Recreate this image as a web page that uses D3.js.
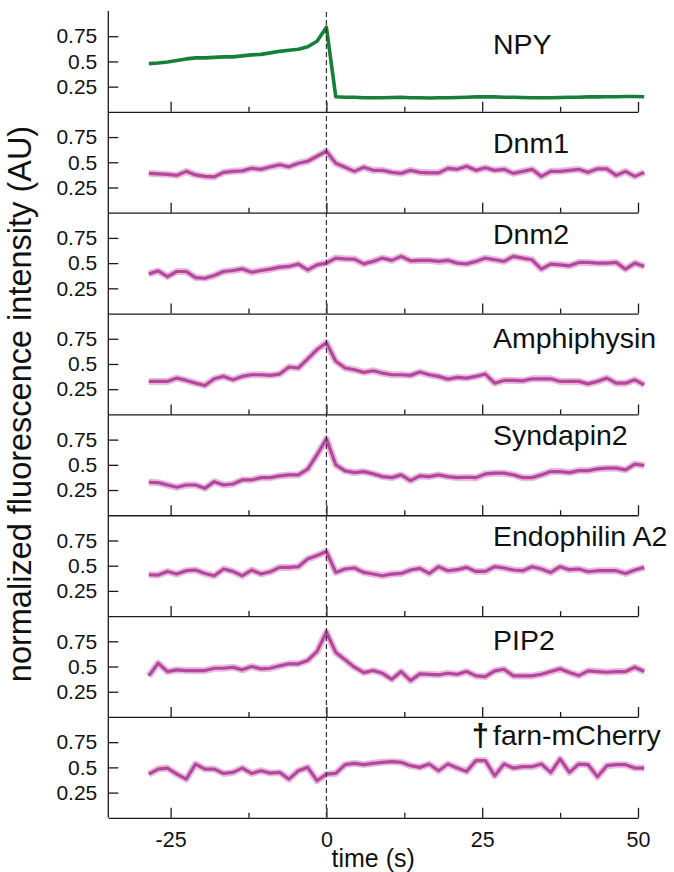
<!DOCTYPE html>
<html><head><meta charset="utf-8">
<script src="https://cdn.jsdelivr.net/npm/d3@7"></script>
<style>
body{margin:0;background:#fff}
svg{display:block}
text{font-family:"Liberation Sans",Arial,Helvetica,sans-serif;fill:#111}
</style>
</head><body><svg id="chart" width="674" height="872"></svg>
<script>
// ---- data ----
const time = [-28.5,-27,-25.5,-24,-22.5,-21,-19.5,-18,-16.5,-15,-13.5,-12,-10.5,-9,-7.5,-6,-4.5,-3,-1.5,0,
  1.5,3,4.5,6,7.5,9,10.5,12,13.5,15,16.5,18,19.5,21,22.5,24,25.5,27,28.5,30,31.5,33,34.5,36,37.5,39,40.5,42,43.5,45,46.5,48,49.5,51];
const panelNames = ["NPY","Dnm1","Dnm2","Amphiphysin","Syndapin2","Endophilin A2","PIP2","farn-mCherry"];
const npy = [0.478,0.485,0.495,0.51,0.525,0.535,0.535,0.54,0.545,0.545,0.555,0.565,0.57,0.585,0.60,0.61,0.62,0.645,0.70,0.84,
  0.15,0.145,0.145,0.14,0.14,0.14,0.142,0.145,0.14,0.14,0.138,0.14,0.14,0.142,0.145,0.148,0.15,0.148,0.145,0.145,
  0.142,0.14,0.14,0.14,0.142,0.145,0.145,0.148,0.148,0.15,0.15,0.152,0.152,0.15];
const dnm1 = [0.39,0.385,0.38,0.37,0.41,0.375,0.36,0.355,0.40,0.41,0.415,0.44,0.43,0.455,0.475,0.455,0.49,0.51,0.56,0.61,
  0.49,0.45,0.41,0.45,0.42,0.42,0.40,0.39,0.42,0.40,0.395,0.395,0.44,0.43,0.46,0.42,0.445,0.42,0.43,0.39,
  0.41,0.43,0.36,0.41,0.41,0.42,0.43,0.40,0.435,0.435,0.37,0.41,0.36,0.40];
const dnm2 = [0.393,0.423,0.367,0.417,0.417,0.357,0.35,0.377,0.417,0.427,0.443,0.41,0.427,0.44,0.46,0.467,0.49,0.433,0.483,0.50,
  0.55,0.543,0.54,0.493,0.517,0.55,0.527,0.567,0.523,0.527,0.527,0.517,0.527,0.50,0.493,0.517,0.55,0.533,0.517,0.567,
  0.55,0.533,0.44,0.49,0.483,0.473,0.507,0.507,0.50,0.50,0.507,0.44,0.50,0.467];
const amphiphysin = [0.327,0.327,0.327,0.36,0.337,0.31,0.287,0.353,0.377,0.343,0.377,0.393,0.393,0.387,0.40,0.47,0.46,0.55,0.643,0.71,
  0.527,0.46,0.443,0.417,0.433,0.41,0.393,0.393,0.387,0.42,0.393,0.377,0.35,0.367,0.36,0.377,0.40,0.31,0.337,0.337,
  0.333,0.353,0.353,0.353,0.327,0.327,0.327,0.303,0.327,0.36,0.31,0.31,0.343,0.293];
const syndapin2 = [0.327,0.323,0.30,0.277,0.30,0.30,0.267,0.333,0.30,0.31,0.35,0.35,0.373,0.373,0.39,0.40,0.40,0.457,0.60,0.757,
  0.50,0.44,0.423,0.433,0.41,0.383,0.373,0.40,0.343,0.39,0.383,0.40,0.383,0.373,0.377,0.373,0.41,0.417,0.417,0.40,
  0.373,0.373,0.40,0.433,0.433,0.423,0.443,0.443,0.46,0.467,0.467,0.45,0.507,0.493];
const endophilinA2 = [0.41,0.407,0.443,0.417,0.45,0.457,0.423,0.40,0.467,0.443,0.40,0.457,0.417,0.44,0.483,0.483,0.49,0.567,0.60,0.64,
  0.433,0.467,0.477,0.433,0.417,0.40,0.417,0.423,0.457,0.473,0.423,0.49,0.45,0.46,0.483,0.443,0.443,0.49,0.477,0.457,
  0.45,0.49,0.467,0.433,0.49,0.46,0.467,0.44,0.45,0.45,0.45,0.423,0.457,0.483];
const pip2 = [0.407,0.533,0.45,0.467,0.46,0.46,0.46,0.483,0.483,0.493,0.467,0.50,0.477,0.483,0.507,0.527,0.527,0.56,0.65,0.84,
  0.64,0.567,0.493,0.44,0.46,0.433,0.373,0.45,0.36,0.427,0.423,0.417,0.433,0.423,0.45,0.407,0.40,0.457,0.473,0.407,
  0.407,0.407,0.423,0.45,0.477,0.44,0.41,0.457,0.45,0.443,0.45,0.45,0.493,0.45];
const farnMCherry = [0.433,0.483,0.493,0.433,0.383,0.533,0.483,0.483,0.44,0.45,0.493,0.44,0.467,0.443,0.45,0.383,0.467,0.50,0.367,0.433,
  0.44,0.527,0.54,0.527,0.54,0.55,0.557,0.55,0.517,0.50,0.533,0.467,0.533,0.493,0.46,0.567,0.567,0.417,0.533,0.493,
  0.507,0.507,0.533,0.45,0.583,0.45,0.533,0.527,0.407,0.517,0.527,0.527,0.493,0.493];
const seriesValues = [npy, dnm1, dnm2, amphiphysin, syndapin2, endophilinA2, pip2, farnMCherry];
const xTickValues = [-25,-12.5,0,12.5,25,37.5,50];
const xTickLabels = [-25,0,25,50];
const yTickValues = [0.25,0.5,0.75];
const xTitle = "time (s)";
const yTitle = "normalized fluorescence intensity (AU)";

// ---- layout / style ----
const plotLeft = 108.3, plotRight = 638, plotTop = 11, panelH = 100.85;
const labelX = 493;
const labelLevel = [0.571,0.588,0.69,0.66,0.70,0.70,0.66,0.723]; // label baseline in panel units
const green = "#178038", magenta = "#b3479c", bandColor = "#e6b3da";
const axisColor = "#1a1a1a";

const svg = d3.select("#chart");
const x = d3.scaleLinear().domain([-35,50]).range([plotLeft,plotRight]);
const bottomAll = plotTop + panelH * panelNames.length;

panelNames.forEach((name, i) => {
  const y = d3.scaleLinear().domain([0,1]).range([plotTop + (i+1)*panelH, plotTop + i*panelH]);
  const g = svg.append("g");
  const vals = seriesValues[i];
  const line = d3.line().x((d,j) => x(time[j])).y(d => y(d));

  const ya = g.append("g").attr("transform", `translate(${plotLeft},0)`)
    .call(d3.axisLeft(y).tickValues(yTickValues).tickSize(-10).tickPadding(11).tickFormat(d => String(d)));
  ya.select(".domain").remove();
  ya.selectAll(".tick line").attr("stroke", axisColor).attr("stroke-width", 1.3);
  ya.selectAll(".tick text").attr("font-size", 21).attr("font-family", "Liberation Sans, Arial, sans-serif").attr("fill", "#111");

  const isLast = i === panelNames.length - 1;
  const xa = g.append("g").attr("transform", `translate(0,${y(0)})`)
    .call(d3.axisBottom(x).tickValues(xTickValues).tickSize(-10).tickSizeOuter(0).tickPadding(14)
      .tickFormat(d => (isLast && xTickLabels.includes(d)) ? String(d) : ""));
  xa.select(".domain").attr("stroke", axisColor).attr("stroke-width", 1.3);
  xa.selectAll(".tick line").attr("stroke", axisColor).attr("stroke-width", 1.3)
    .attr("y2", d => xTickLabels.includes(d) ? -10 : -5);
  xa.selectAll(".tick text").attr("font-size", 21.5).attr("font-family", "Liberation Sans, Arial, sans-serif").attr("fill", "#111");

  if (i === 0) {
    g.append("path").datum(vals).attr("d", line).attr("fill", "none")
      .attr("stroke", green).attr("stroke-width", 3.6).attr("stroke-linejoin", "round");
  } else {
    g.append("path").datum(vals).attr("d", line).attr("fill", "none")
      .attr("stroke", bandColor).attr("stroke-width", 7).attr("stroke-linejoin", "round").attr("opacity", 0.9);
    g.append("path").datum(vals).attr("d", line).attr("fill", "none")
      .attr("stroke", magenta).attr("stroke-width", 3.2).attr("stroke-linejoin", "round");
  }

  const ly = y(labelLevel[i]);
  g.append("text").attr("x", labelX).attr("y", ly).attr("font-size", 28.5).text(name);
  if (name === "farn-mCherry") {
    g.append("text").attr("x", 489).attr("y", ly + 1).attr("text-anchor", "end")
      .attr("font-size", 31).attr("font-weight", "bold").text("\u2020");
  }
});

svg.append("line").attr("x1", plotLeft).attr("x2", plotLeft).attr("y1", plotTop).attr("y2", bottomAll)
  .attr("stroke", axisColor).attr("stroke-width", 1.3);

svg.append("line").attr("x1", x(0)).attr("x2", x(0)).attr("y1", plotTop + 1).attr("y2", bottomAll)
  .attr("stroke", "#333").attr("stroke-width", 1.2).attr("stroke-dasharray", "5,3");

svg.append("text").attr("x", (plotLeft+plotRight)/2).attr("y", 867).attr("text-anchor", "middle")
  .attr("font-size", 25).text(xTitle);
svg.append("text").attr("transform", "translate(30.5,404) rotate(-90)").attr("text-anchor", "middle")
  .attr("font-size", 32.5).text(yTitle);
</script>
</body></html>
